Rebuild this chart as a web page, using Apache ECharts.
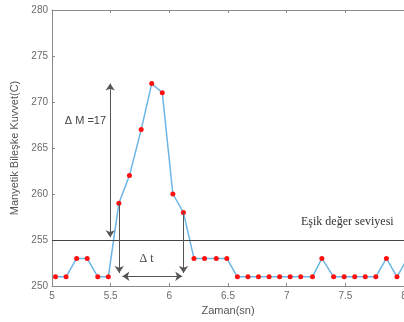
<!DOCTYPE html>
<html>
<head>
<meta charset="utf-8">
<script src="https://cdn.jsdelivr.net/npm/echarts@6/dist/echarts.min.js"></script>
<style>
  html, body { margin: 0; padding: 0; background: #fff; }
  #chart { width: 404px; height: 322px; }
</style>
</head>
<body>
<div id="chart"></div>
<script>
// sample times (s) and magnetic force values
const times = [5.03, 5.12, 5.21, 5.30, 5.39, 5.48, 5.57, 5.66, 5.76, 5.85, 5.94, 6.03,
  6.12, 6.21, 6.30, 6.40, 6.49, 6.58, 6.67, 6.76, 6.85, 6.94, 7.03, 7.12, 7.22, 7.30,
  7.40, 7.49, 7.58, 7.67, 7.76, 7.85, 7.94, 8.03];
const force = [251, 251, 253, 253, 251, 251, 259, 262, 267, 272, 271, 260,
  258, 253, 253, 253, 253, 251, 251, 251, 251, 251, 251, 251, 251, 253,
  251, 251, 251, 251, 251, 253, 251, 253];
const threshold = 255;
const thresholdLabel = "Eşik değer seviyesi";
const peakLabel = "Δ M =17";
const durationLabel = "Δ t";

const chart = echarts.init(document.getElementById("chart"));

const axisGray = "#8a8a8a";
const textGray = "#6a6a6a";
const arrowGray = "#555";

const option = {
  animation: false,
  grid: { left: 52, right: 0, top: 10, bottom: 36, outerBoundsMode: "none" },
  xAxis: [
    {
      type: "value",
      min: 5,
      max: 8,
      interval: 0.5,
      name: "Zaman(sn)",
      nameLocation: "middle",
      nameGap: 19,
      nameTextStyle: { fontFamily: "Liberation Sans", fontSize: 11, color: "#555" },
      axisLine: { lineStyle: { color: axisGray } },
      axisTick: { inside: true, length: 3, lineStyle: { color: axisGray } },
      axisLabel: { fontFamily: "Liberation Sans", fontSize: 10, color: textGray, margin: 5 },
      splitLine: { show: false },
    },
    {
      type: "value",
      position: "top",
      min: 5,
      max: 8,
      interval: 0.5,
      axisLine: { show: true, lineStyle: { color: axisGray } },
      axisTick: { inside: true, length: 3, lineStyle: { color: axisGray } },
      axisLabel: { show: false },
      splitLine: { show: false },
    },
  ],
  yAxis: {
    type: "value",
    min: 250,
    max: 280,
    interval: 5,
    name: "Manyetik Bileşke Kuvvet(C)",
    nameLocation: "middle",
    nameGap: 28,
    nameTextStyle: { fontFamily: "Liberation Sans", fontSize: 11, color: "#555" },
    axisLine: { show: true, lineStyle: { color: axisGray } },
    axisTick: { show: true, inside: true, length: 3, lineStyle: { color: axisGray } },
    axisLabel: { fontFamily: "Liberation Sans", fontSize: 10, color: textGray, margin: 4 },
    splitLine: { show: false },
  },
  series: [
    {
      type: "line",
      data: times.map((t, i) => [t, force[i]]),
      clip: true,
      symbol: "circle",
      symbolSize: 5,
      itemStyle: { color: "#ff1010" },
      lineStyle: { color: "#6cb6e6", width: 1.5 },
      z: 3,
      markLine: {
        silent: true,
        animation: false,
        symbolSize: 7,
        label: { show: false },
        lineStyle: { color: arrowGray, width: 1, type: "solid" },
        data: [
          [
            { coord: [5, threshold], symbol: "none", lineStyle: { color: "#444" } },
            { coord: [8, threshold], symbol: "none" },
          ],
          [
            { coord: [5.496, 272], symbol: "arrow" },
            { coord: [5.496, 255.3], symbol: "arrow" },
          ],
          [
            { coord: [5.573, 259], symbol: "none" },
            { coord: [5.573, 251.4], symbol: "arrow" },
          ],
          [
            { coord: [6.121, 258], symbol: "none" },
            { coord: [6.121, 251.4], symbol: "arrow" },
          ],
          [
            { coord: [5.6, 251.06], symbol: "arrow" },
            { coord: [6.11, 251.06], symbol: "arrow" },
          ],
        ],
      },
      markPoint: {
        silent: true,
        symbol: "circle",
        symbolSize: 0,
        label: {
          show: true,
          position: "inside",
          color: "#444",
          fontSize: 11,
          fontFamily: "Liberation Sans",
          formatter: (p) => p.name,
        },
        data: [
          { name: peakLabel, coord: [5.285, 267.9] },
          { name: durationLabel, coord: [5.806, 253.0], label: { fontFamily: "Liberation Serif", fontSize: 12 } },
          { name: thresholdLabel, coord: [7.517, 257.0], label: { fontFamily: "Liberation Serif", fontSize: 12, color: "#333" } },
        ],
      },
    },
  ],
};

chart.setOption(option);
</script>
</body>
</html>
